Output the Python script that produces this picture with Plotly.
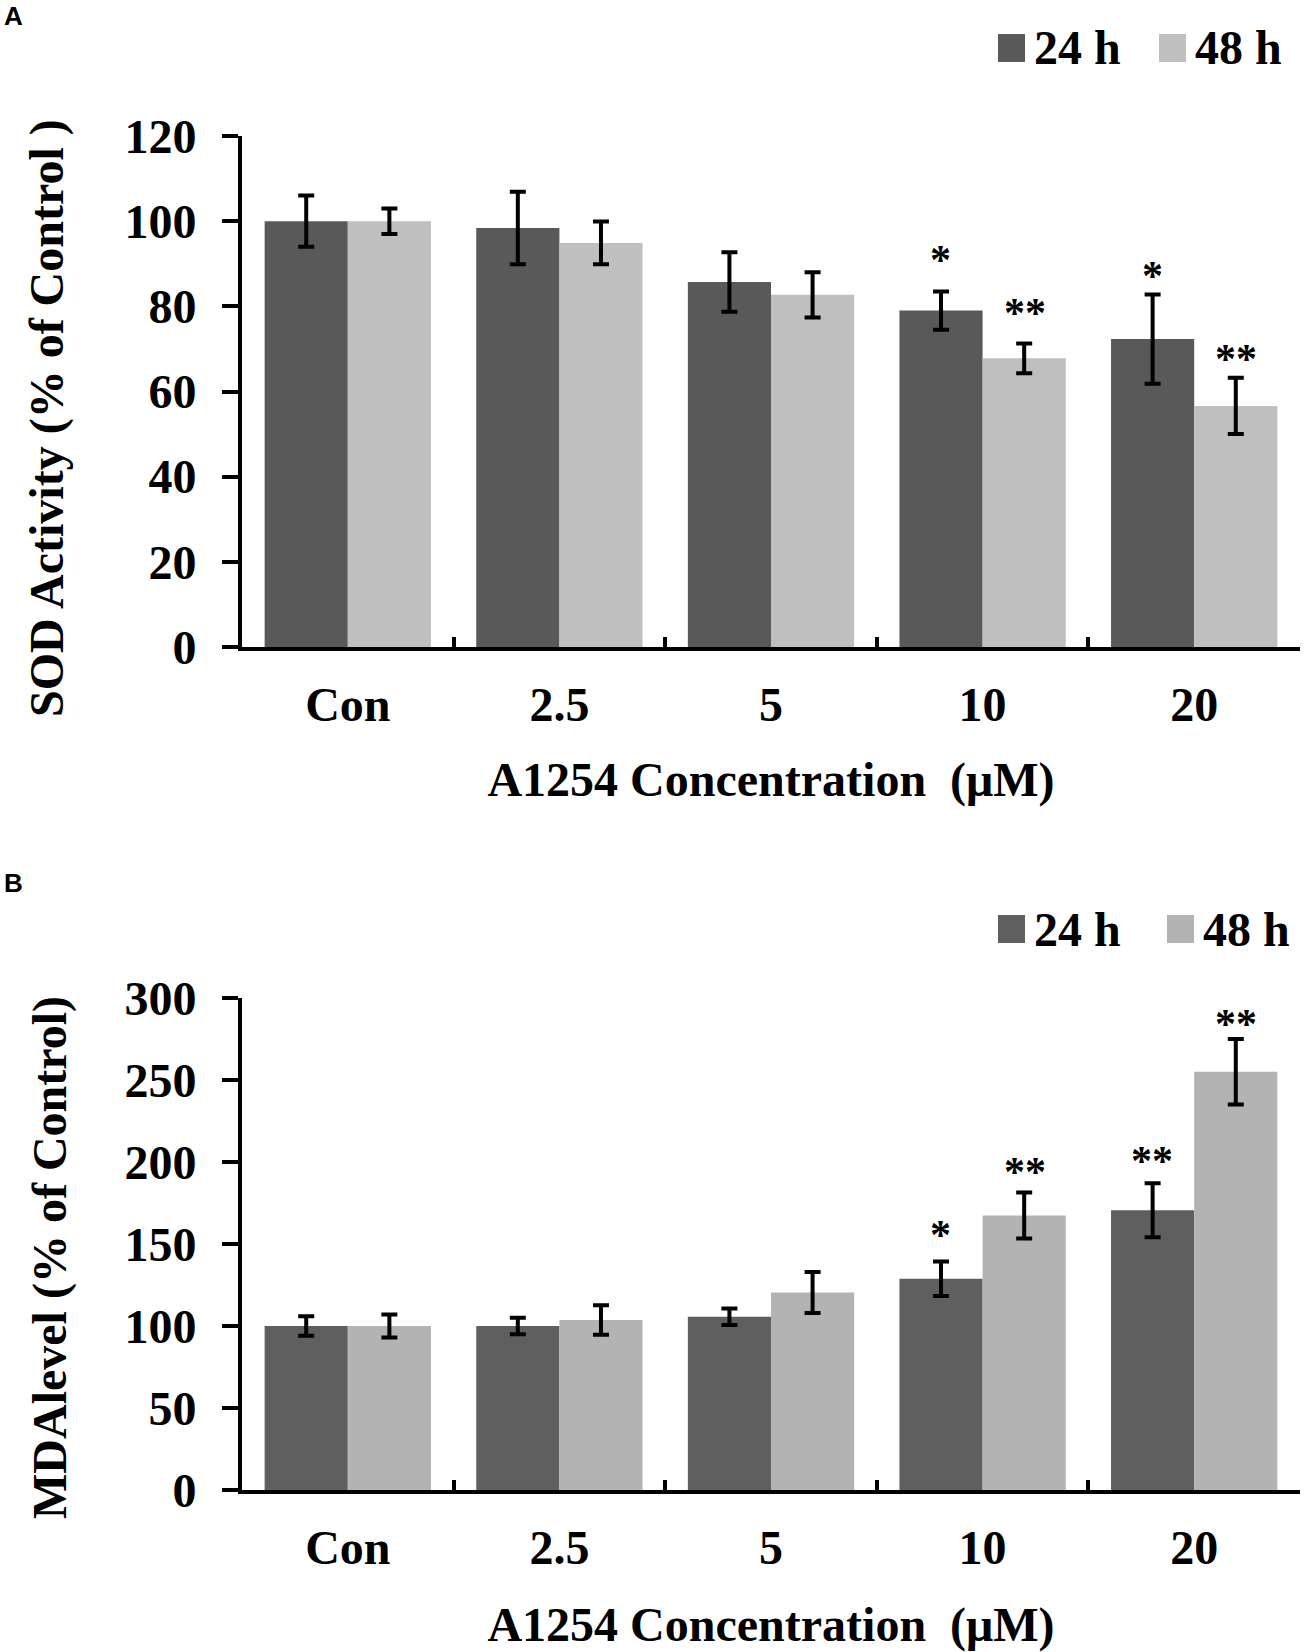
import plotly.graph_objects as go

# ---- data ----
CATEGORIES = ["Con", "2.5", "5", "10", "20"]
SERIES = ["24 h", "48 h"]

SOD_24H = [100, 98.4, 85.7, 79.0, 72.3]
SOD_24H_ERR = [6.0, 8.5, 7.0, 4.5, 10.5]
SOD_48H = [100, 94.9, 82.7, 67.8, 56.6]
SOD_48H_ERR = [3.0, 5.0, 5.3, 3.5, 6.6]

MDA_24H = [100, 100, 105.6, 128.8, 170.6]
MDA_24H_ERR = [6.0, 5.0, 5.0, 10.5, 16.5]
MDA_48H = [100, 103.7, 120.4, 167.4, 255.0]
MDA_48H_ERR = [7.0, 9.0, 12.5, 14.0, 20.0]

# significance marks: category, series, text, height (data units)
SIG_A_CAT = ["10", "10", "20", "20"]
SIG_A_SER = ["24 h", "48 h", "24 h", "48 h"]
SIG_A_TXT = ["*", "**", "*", "**"]
SIG_A_Y = [92.7, 80.2, 88.9, 69.6]

SIG_B_CAT = ["10", "10", "20", "20"]
SIG_B_SER = ["24 h", "48 h", "24 h", "48 h"]
SIG_B_TXT = ["*", "**", "**", "**"]
SIG_B_Y = [160.3, 199.0, 205.4, 289.0]

# ---- styling ----
W, H = 1304, 1652
SERIF = "Liberation Serif"
DARK_A, LIGHT_A = "#595959", "#bfbfbf"
DARK_B, LIGHT_B = "#5f5f5f", "#b3b3b3"
FS = 48
X_DOMAIN = [242 / W, 1300 / W]
DOM_A = [1 - 647 / H, 1 - 136 / H]
DOM_B = [1 - 1490 / H, 1 - 998 / H]
BAR_SHIFT = 42  # px from category centre to each bar centre


def bar(name, y, err, color, xa, ya):
    return go.Bar(
        x=CATEGORIES, y=y, name=name, xaxis=xa, yaxis=ya,
        marker=dict(color=color, line=dict(width=0)),
        error_y=dict(type="data", array=err, color="black", thickness=4, width=8),
        showlegend=False,
    )


fig = go.Figure()
fig.add_trace(bar(SERIES[0], SOD_24H, SOD_24H_ERR, DARK_A, "x", "y"))
fig.add_trace(bar(SERIES[1], SOD_48H, SOD_48H_ERR, LIGHT_A, "x", "y"))
fig.add_trace(bar(SERIES[0], MDA_24H, MDA_24H_ERR, DARK_B, "x2", "y2"))
fig.add_trace(bar(SERIES[1], MDA_48H, MDA_48H_ERR, LIGHT_B, "x2", "y2"))

xcommon = dict(
    type="category", range=[-0.5, 4.5], showline=True, linewidth=4, linecolor="black",
    ticks="inside", tickson="boundaries", ticklen=10, tickwidth=4, tickcolor="black",
    showgrid=False, zeroline=False, automargin=False, domain=X_DOMAIN,
    tickfont=dict(family=SERIF, size=FS, color="black", weight="bold"),
    ticklabelstandoff=12,
)
ycommon = dict(
    showline=True, linewidth=4, linecolor="black", ticks="outside", ticklen=16,
    tickwidth=4, tickcolor="black", showgrid=False, zeroline=False, automargin=False,
    tickfont=dict(family=SERIF, size=FS, color="black", weight="bold"),
    ticklabelstandoff=16,
)
title_font = dict(family=SERIF, size=FS, color="black", weight="bold")

fig.update_layout(
    width=W, height=H, template="none",
    paper_bgcolor="white", plot_bgcolor="white",
    margin=dict(l=0, r=0, t=0, b=0),
    barmode="group", bargap=0.214, bargroupgap=0,
    xaxis=dict(xcommon, anchor="y",
               title=dict(text="A1254 Concentration \u00a0(μM)", font=title_font, standoff=34)),
    yaxis=dict(ycommon, anchor="x", domain=DOM_A, range=[0, 120], dtick=20),
    xaxis2=dict(xcommon, anchor="y2",
                title=dict(text="A1254 Concentration \u00a0(μM)", font=title_font, standoff=36)),
    yaxis2=dict(ycommon, anchor="x2", domain=DOM_B, range=[0, 300], dtick=50),
)

# y-axis titles (sit a little below the axis middle in the reference)
for text, xpx, ypx in [("SOD Activity (% of Control )", 47, 418),
                       ("MDAlevel (% of Control)", 50, 1258)]:
    fig.add_annotation(
        x=xpx / W, y=1 - ypx / H, xref="paper", yref="paper", text=text,
        showarrow=False, textangle=-90, xanchor="center", yanchor="middle",
        font=title_font,
    )

# significance stars
for cats, sers, txts, ys, xr, yr in [
    (SIG_A_CAT, SIG_A_SER, SIG_A_TXT, SIG_A_Y, "x", "y"),
    (SIG_B_CAT, SIG_B_SER, SIG_B_TXT, SIG_B_Y, "x2", "y2"),
]:
    for c, s, t, yv in zip(cats, sers, txts, ys):
        fig.add_annotation(
            x=CATEGORIES.index(c), y=yv, xref=xr, yref=yr, text=t, showarrow=False,
            xshift=-BAR_SHIFT if s == SERIES[0] else BAR_SHIFT, yshift=-8,
            font=dict(family=SERIF, size=42, color="black", weight="bold"),
        )

# panel letters
for letter, ypx in [("A", 16), ("B", 883)]:
    fig.add_annotation(
        x=2 / W, y=1 - ypx / H, xref="paper", yref="paper", text=letter, showarrow=False,
        xanchor="left", yanchor="middle",
        font=dict(family="Liberation Sans", size=26, color="black", weight="bold"),
    )

# legends drawn as squares + labels (the built-in legend swatch is too small)
for ycen, dark, light, x_sq in [(48, DARK_A, LIGHT_A, (998, 1159)), (929, DARK_B, LIGHT_B, (998, 1167))]:
    for i, (name, col) in enumerate(zip(SERIES, [dark, light])):
        x0 = x_sq[i]
        fig.add_shape(
            type="rect", xref="paper", yref="paper",
            x0=x0 / W, x1=(x0 + 27) / W, y0=1 - (ycen + 14) / H, y1=1 - (ycen - 14) / H,
            fillcolor=col, line=dict(width=0),
        )
        fig.add_annotation(
            x=(x0 + 34) / W, y=1 - ycen / H, xref="paper", yref="paper", text=name,
            showarrow=False, xanchor="left", yanchor="middle",
            font=dict(family=SERIF, size=48, color="black", weight="bold"),
        )

fig.write_html("out.html", config={"displayModeBar": False},
               post_script="document.body.style.margin='0';")
